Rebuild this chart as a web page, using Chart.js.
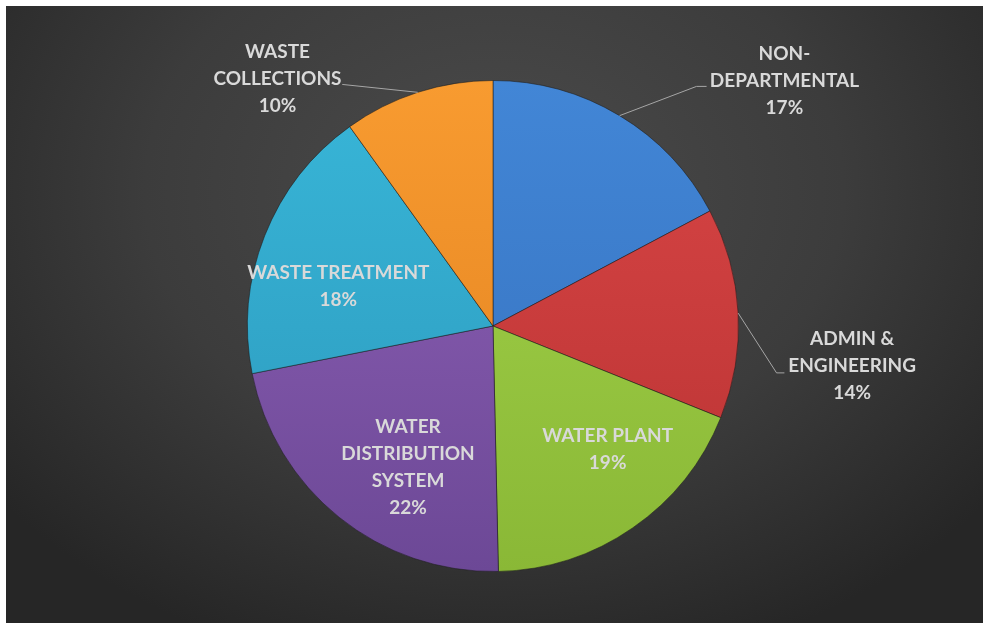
<!DOCTYPE html>
<html>
<head>
<meta charset="utf-8">
<script src="https://cdn.jsdelivr.net/npm/chart.js@4"></script>
<style>
  html, body { margin: 0; padding: 0; background: #fff; }
  #frame {
    position: absolute; left: 6px; top: 6px; width: 977px; height: 617px;
    background: radial-gradient(ellipse 65% 80% at 50% 30%, #4b4b4b 0%, #3c3c3c 55%, #262626 100%);
  }
  #wrap { position: absolute; left: 0; top: 0; width: 988px; height: 629px; }
</style>
</head>
<body>
<div id="frame"></div>
<div id="wrap"><canvas id="grafico"></canvas></div>
<script>
// dados do gráfico
var categorias = [
  ["NON-", "DEPARTMENTAL"],
  ["ADMIN &", "ENGINEERING"],
  ["WATER PLANT"],
  ["WATER", "DISTRIBUTION", "SYSTEM"],
  ["WASTE TREATMENT"],
  ["WASTE", "COLLECTIONS"]
];
var valores = [17.25, 13.85, 18.57, 22.25, 18.2, 9.92];

// cores (clara em cima, escura embaixo)
var coresTopo  = ['#4286d6', '#d94646', '#a3d34b', '#9062b8', '#38b6d8', '#f89b30'];
var coresBaixo = ['#3570bd', '#b83232', '#8ab836', '#6c4896', '#2c98bc', '#e0801f'];

// posição dos rótulos em frações do raio a partir do centro
// linha: pontos da linha guia (também em frações do raio)
var rotulos = [
  { x: 1.187, y: -1.00, linha: [[0.829, -0.976], [0.870, -0.976]] },
  { x: 1.463, y: 0.163, linha: [[1.155, 0.191], [1.187, 0.191]] },
  { x: 0.467, y: 0.504 },
  { x: -0.346, y: 0.577 },
  { x: -0.630, y: -0.163 },
  { x: -0.878, y: -1.008, linha: [[-0.614, -0.984]] }
];

function gradiente(c) {
  var i = c.dataIndex;
  var area = c.chart.chartArea;
  if (!area) return coresTopo[i];
  var g = c.chart.ctx.createLinearGradient(0, area.top, 0, area.bottom);
  g.addColorStop(0, coresTopo[i]);
  g.addColorStop(1, coresBaixo[i]);
  return g;
}

var pluginRotulos = {
  id: 'rotulos',
  afterDatasetsDraw: function (chart) {
    var ctx = chart.ctx;
    var meta = chart.getDatasetMeta(0);
    var arc0 = meta.data[0];
    var cx = arc0.x, cy = arc0.y, r = arc0.outerRadius;
    var total = valores.reduce(function (a, b) { return a + b; }, 0);
    ctx.save();
    ctx.font = 'bold 19px Lato';
    ctx.textAlign = 'center';
    ctx.textBaseline = 'middle';
    var alturaLinha = 27;
    meta.data.forEach(function (arc, i) {
      var rot = rotulos[i];
      var linhas = categorias[i].concat([Math.round(valores[i] / total * 100) + '%']);
      var tx = cx + rot.x * r, ty = cy + rot.y * r;
      if (rot.linha) {
        var meio = (arc.startAngle + arc.endAngle) / 2;
        ctx.strokeStyle = '#a6a6a6';
        ctx.lineWidth = 1;
        ctx.beginPath();
        ctx.moveTo(cx + Math.cos(meio) * r, cy + Math.sin(meio) * r);
        rot.linha.forEach(function (p) { ctx.lineTo(cx + p[0] * r, cy + p[1] * r); });
        ctx.stroke();
      }
      ctx.fillStyle = '#d9d9d9';
      var y0 = ty - (linhas.length - 1) * alturaLinha / 2;
      linhas.forEach(function (t, k) { ctx.fillText(t, tx, y0 + k * alturaLinha); });
    });
    ctx.restore();
  }
};

var ctx = document.getElementById('grafico').getContext('2d');
var chart = new Chart(ctx, {
  type: 'pie',
  data: {
    labels: categorias.map(function (c) { return c.join(' '); }),
    datasets: [{
      data: valores,
      backgroundColor: gradiente,
      borderColor: 'rgba(30,30,30,0.55)',
      borderWidth: 1
    }]
  },
  options: {
    responsive: true,
    maintainAspectRatio: false,
    animation: false,
    layout: { padding: { top: 80, bottom: 57, left: 0, right: 2 } },
    plugins: { legend: { display: false }, tooltip: { enabled: false } }
  },
  plugins: [pluginRotulos]
});
</script>
</body>
</html>
